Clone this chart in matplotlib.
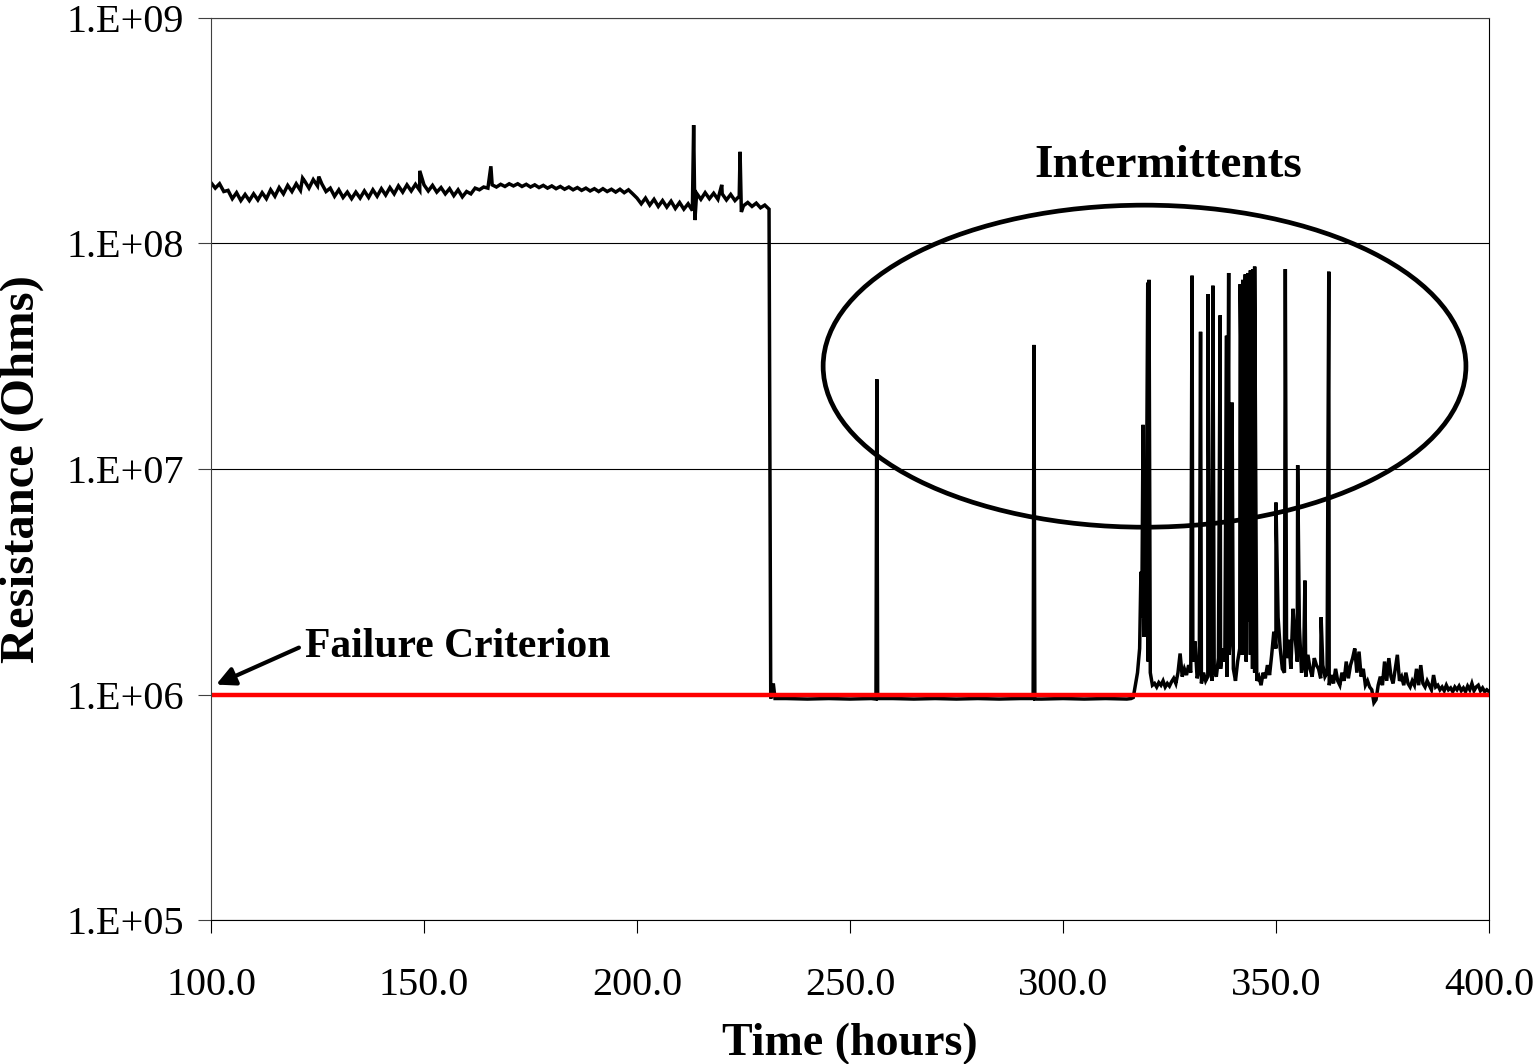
import numpy as np
import matplotlib.pyplot as plt
from matplotlib.patches import Ellipse
from matplotlib.ticker import FuncFormatter, FixedLocator, NullLocator

plt.rcParams['font.family'] = ['Liberation Serif', 'DejaVu Serif']

# ---- data ----
# baseline before the drop (hours, ohms x 1e8)
t_high = list(range(100, 232))
r_high = [1.86, 1.76, 1.84, 1.70, 1.72, 1.58, 1.68, 1.55, 1.65, 1.55,
          1.66, 1.56, 1.68, 1.58, 1.73, 1.62, 1.77, 1.66, 1.81, 1.70,
          1.84, 1.72, 1.89, 1.76, 1.92, 1.80, 1.84, 1.70, 1.76, 1.62,
          1.73, 1.60, 1.69, 1.58, 1.69, 1.59, 1.71, 1.60, 1.73, 1.62,
          1.75, 1.64, 1.77, 1.66, 1.80, 1.69, 1.82, 1.71, 1.83, 1.72,
          1.82, 1.71, 1.81, 1.69, 1.77, 1.66, 1.75, 1.63, 1.73, 1.61,
          1.70, 1.66, 1.76, 1.73, 1.78, 1.76, 1.82, 1.78, 1.83, 1.79,
          1.84, 1.80, 1.84, 1.79, 1.83, 1.78, 1.82, 1.77, 1.81, 1.76,
          1.80, 1.75, 1.79, 1.74, 1.78, 1.73, 1.77, 1.72, 1.76, 1.71,
          1.75, 1.70, 1.75, 1.70, 1.74, 1.69, 1.74, 1.68, 1.73, 1.66,
          1.59, 1.50, 1.59, 1.48, 1.57, 1.46, 1.55, 1.45, 1.54, 1.43,
          1.52, 1.42, 1.50, 1.40, 1.67, 1.57, 1.68, 1.58, 1.67, 1.57,
          1.66, 1.56, 1.65, 1.55, 1.62, 1.47, 1.52, 1.46, 1.51, 1.44,
          1.48, 1.42]

# flat section after the drop (hours, ohms x 1e6)
t_low = [231.4, 232.0, 232.4, 235, 240, 245, 250, 255, 256.1, 256.5,
         260, 265, 270, 275, 280, 285, 290, 293.0, 293.4, 295,
         300, 305, 310, 315]
r_low = [0.96, 1.12, 0.96, 0.96, 0.955, 0.96, 0.955, 0.96, 0.955, 0.96,
         0.96, 0.955, 0.96, 0.955, 0.96, 0.955, 0.96, 0.96, 0.955, 0.955,
         0.96, 0.955, 0.96, 0.955]

# noisy section (hours, ohms x 1e6), half hour steps from 316 h
t_noise = [316 + 0.5 * i for i in range(169)]
r_noise = [0.96, 0.97, 1.10, 1.25, 1.60, 2.20, 1.80, 3.00, 1.40, 1.25,
           1.10, 1.12, 1.08, 1.13, 1.10, 1.15, 1.08, 1.12, 1.09, 1.14,
           1.18, 1.12, 1.25, 1.52, 1.20, 1.30, 1.22, 1.35, 1.25, 1.40,
           1.72, 1.18, 1.30, 1.12, 1.25, 1.15, 1.20, 1.35, 1.15, 1.28,
           1.20, 1.45, 1.30, 1.60, 1.40, 1.20, 1.50, 2.00, 1.30, 1.15,
           1.40, 1.60, 1.50, 1.80, 1.40, 2.10, 1.50, 1.30, 1.25, 1.15,
           1.20, 1.10, 1.25, 1.18, 1.35, 1.22, 1.50, 1.90, 1.60, 2.20,
           1.60, 1.30, 1.25, 1.45, 1.75, 1.30, 2.40, 1.80, 1.40, 2.00,
           1.25, 1.40, 1.20, 1.50, 1.30, 1.20, 1.45, 1.35, 1.30, 1.18,
           1.35, 1.20, 1.25, 1.10, 1.22, 1.12, 1.30, 1.15, 1.10, 1.25,
           1.15, 1.40, 1.18, 1.35, 1.45, 1.60, 1.25, 1.55, 1.20, 1.30,
           1.10, 1.15, 1.08, 1.05, 0.92, 0.95, 1.10, 1.20, 1.10, 1.40,
           1.15, 1.45, 1.20, 1.12, 1.30, 1.50, 1.15, 1.20, 1.10, 1.25,
           1.12, 1.08, 1.15, 1.10, 1.30, 1.10, 1.35, 1.12, 1.08, 1.15,
           1.10, 1.05, 1.22, 1.08, 1.10, 1.05, 1.08, 1.04, 1.10, 1.05,
           1.07, 1.03, 1.08, 1.05, 1.09, 1.04, 1.07, 1.03, 1.09, 1.05,
           1.12, 1.04, 1.08, 1.10, 1.04, 1.07, 1.03, 1.05, 1.03]

# single-sample spikes / dips (hours, ohms)
t_spike = [121.5, 125.3, 149.0, 165.7, 213.3, 213.6, 219.9, 224.2, 224.5,
           256.3, 293.2,
           318.3, 318.8, 319.9, 320.2, 330.3, 332.3, 334.0, 335.2, 336.9,
           338.4, 338.9, 339.7, 341.6, 341.9, 342.2, 342.5, 342.8, 343.1,
           343.4, 343.7, 344.0, 344.3, 344.6, 345.0, 350.0, 352.2, 355.1,
           356.8, 360.6, 362.4]
r_spike = [1.95e8, 1.98e8, 2.10e8, 2.20e8, 3.35e8, 1.27e8, 1.82e8, 2.55e8, 1.38e8,
           2.5e7, 3.55e7,
           3.5e6, 1.57e7, 6.7e7, 6.9e7, 7.2e7, 4.06e7, 5.97e7, 6.5e7, 4.8e7,
           3.9e7, 7.4e7, 1.97e7, 6.6e7, 2.0e7, 6.9e7, 2.6e7, 7.3e7, 3.0e7,
           7.4e7, 4.0e7, 7.6e7, 3.0e7, 7.7e7, 7.9e7, 7.1e6, 7.7e7, 1.04e7,
           3.2e6, 2.2e6, 7.5e7]

failure_level = 1e6
x_ticks = [100, 150, 200, 250, 300, 350, 400]
y_ticks = [1e5, 1e6, 1e7, 1e8, 1e9]

# ---- assemble trace ----
t_all = np.concatenate([t_high, t_low, t_noise, t_spike])
r_all = np.concatenate([np.array(r_high) * 1e8, np.array(r_low) * 1e6,
                        np.array(r_noise) * 1e6, r_spike])
order = np.argsort(t_all, kind='stable')
t_all = t_all[order]
r_all = r_all[order]

fig = plt.figure(figsize=(15.38, 10.64), dpi=100)
ax = fig.add_axes([0.1372, 0.1353, 0.8309, 0.8478])

ax.set_yscale('log')
ax.set_xlim(100, 400)
ax.set_ylim(1e5, 1e9)

ax.yaxis.grid(True, color='black', lw=0.8)
ax.set_axisbelow(True)

ax.plot(t_all, r_all, color='black', lw=2.5, solid_joinstyle='miter')
ax.plot([100, 400], [failure_level, failure_level], color='#ff0000', lw=3.2,
        solid_capstyle='butt')

ax.xaxis.set_major_locator(FixedLocator(x_ticks))
ax.yaxis.set_major_locator(FixedLocator(y_ticks))
ax.yaxis.set_minor_locator(NullLocator())
ax.xaxis.set_major_formatter(FuncFormatter(lambda v, p: '%.1f' % v))
ax.yaxis.set_major_formatter(FuncFormatter(lambda v, p: '1.E+%02d' % round(np.log10(v))))
ax.tick_params(axis='both', which='major', labelsize=29, length=9.5, width=0.8,
               direction='out')
ax.tick_params(axis='y', pad=10, color='#404040')
ax.tick_params(axis='x', pad=24, color='black')

for s in ax.spines.values():
    s.set_linewidth(0.8)
ax.spines['left'].set_color('#404040')
ax.spines['top'].set_color('#404040')

ax.set_xlabel('Time (hours)', fontsize=33, fontweight='bold', labelpad=14)
ax.set_ylabel('Resistance (Ohms)', fontsize=35, fontweight='bold', labelpad=16)

# ellipse around the intermittents
ax.add_patch(Ellipse((0.7305, 0.614), 0.503, 0.357, transform=ax.transAxes,
                     fill=False, edgecolor='black', lw=3.4, zorder=5))
ax.text(0.749, 0.836, 'Intermittents', transform=ax.transAxes, fontsize=34,
        fontweight='bold', ha='center', va='center')

ax.text(0.0736, 0.3027, 'Failure Criterion', transform=ax.transAxes,
        fontsize=30, fontweight='bold', ha='left', va='center')
ax.annotate('', xy=(0.004, 0.261), xycoords='axes fraction',
            xytext=(0.0688, 0.302), textcoords='axes fraction',
            arrowprops=dict(arrowstyle='-|>', color='black', lw=3,
                            mutation_scale=28, shrinkA=0, shrinkB=0))

fig.savefig('out.png', dpi=100)
